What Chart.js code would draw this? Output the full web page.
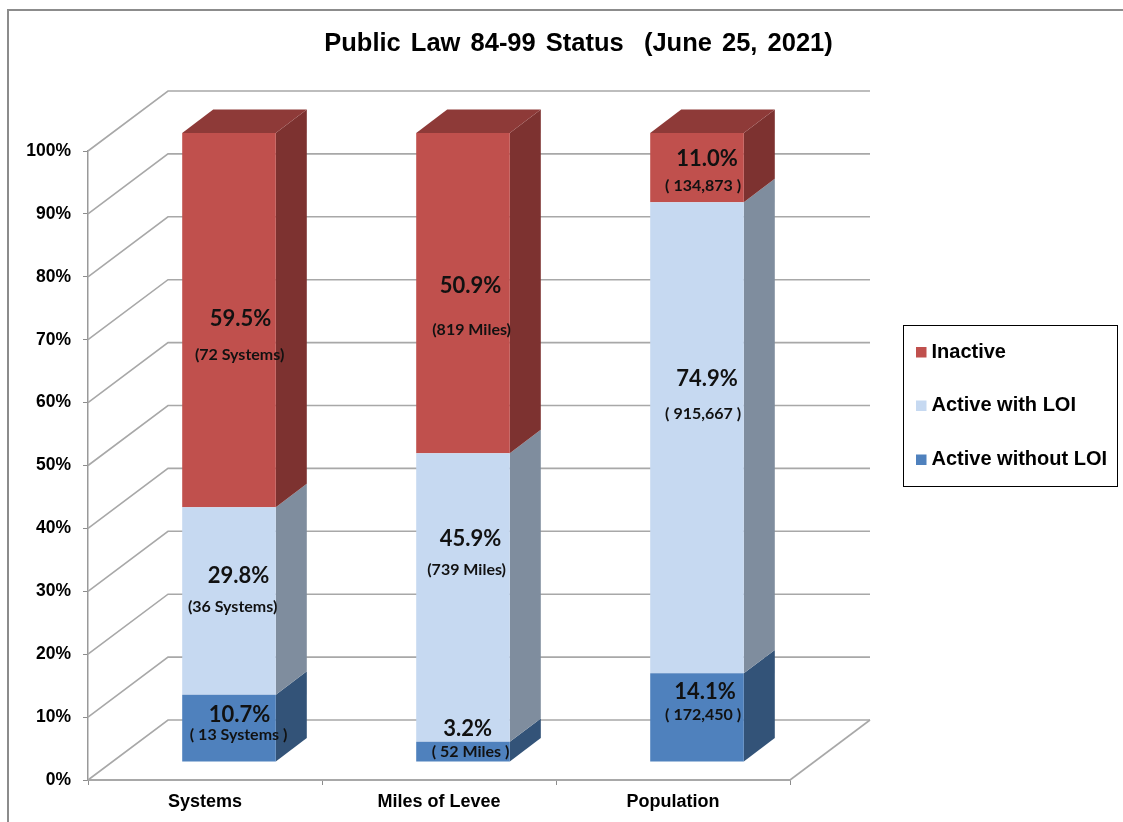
<!DOCTYPE html>
<html>
<head>
<meta charset="utf-8">
<title>Public Law 84-99 Status</title>
<script src="https://cdn.jsdelivr.net/npm/chart.js@4"></script>
<style>
  html, body { margin: 0; padding: 0; background: #fff; }
  #wrap { width: 1123px; height: 822px; position: relative; overflow: hidden; }
</style>
</head>
<body>
<div id="wrap"><canvas id="chart"></canvas></div>
<script>
const chartTitle = 'Public Law 84-99 Status  (June 25, 2021)';
const categories = ['Systems', 'Miles of Levee', 'Population'];
const seriesNames = ['Active without LOI', 'Active with LOI', 'Inactive'];

const activeWithoutLoi = [10.7, 3.2, 14.1];
const activeWithLoi = [29.8, 45.9, 74.9];
const inactive = [59.5, 50.9, 11.0];

const activeWithoutLoiNotes = ['( 13 Systems )', '( 52 Miles )', '( 172,450 )'];
const activeWithLoiNotes = ['(36 Systems)', '(739 Miles)', '( 915,667 )'];
const inactiveNotes = ['(72 Systems)', '(819 Miles)', '( 134,873 )'];

// colours: front face, side face, top face
const frontColors = ['#4F81BD', '#C6D9F1', '#C0504D'];
const sideColors = ['#335378', '#7F8D9E', '#7D3230'];
const topColors = ['#3F6797', '#9EAEC1', '#8E3A38'];

const wallDepth = { x: 80, y: 60 };     // front plane to back wall
const barOffset = { x: 24, y: 18 };     // front plane to front of the bars
const barDepth = { x: 31, y: 23.4 };
const gridColor = '#A8A8A8';

// the labels were moved by hand in the original, [dx, dy] from segment centre
const percentNudge = [
  [[11, -13], [5, -23], [8.5, -25]],
  [[10, -25], [8, -58.5], [10.5, -59]],
  [[12, -1], [8, -7], [10.5, -9]]
];
const noteNudge = [
  [[10, 6.5], [8, 0.5], [6.5, -2.5]],
  [[4, 5.5], [4, -28], [6.5, -23.5]],
  [[11, 34.5], [9, 36.5], [6.5, 18.5]]
];
const noteLists = [activeWithoutLoiNotes, activeWithLoiNotes, inactiveNotes];

function poly(ctx, pts, color) {
  ctx.beginPath();
  pts.forEach((p, i) => (i ? ctx.lineTo(p[0], p[1]) : ctx.moveTo(p[0], p[1])));
  ctx.closePath();
  ctx.fillStyle = color;
  ctx.fill();
}

const plot3d = {
  id: 'plot3d',
  beforeDraw(chart) {
    const ctx = chart.ctx;
    // outer frame, only left and top are in the picture
    ctx.save();
    ctx.strokeStyle = '#8C8C8C';
    ctx.lineWidth = 2;
    ctx.beginPath();
    ctx.moveTo(8, 822);
    ctx.lineTo(8, 10);
    ctx.lineTo(1123, 10);
    ctx.stroke();

    ctx.textAlign = 'center';
    ctx.textBaseline = 'middle';
    ctx.fillStyle = '#000';
    ctx.font = 'bold 25.5px "Liberation Sans"';
    ctx.wordSpacing = '3px';
    ctx.fillText(chartTitle, 578.5, 43.5);
    ctx.wordSpacing = '0px';
    ctx.restore();
  },
  beforeDatasetsDraw(chart) {
    const ctx = chart.ctx;
    const area = chart.chartArea;
    const yScale = chart.scales.y;

    // back wall and left side grid
    ctx.save();
    ctx.strokeStyle = gridColor;
    ctx.lineWidth = 1.6;
    yScale.ticks.forEach((t) => {
      const y = yScale.getPixelForValue(t.value);
      ctx.beginPath();
      ctx.moveTo(area.left, y);
      ctx.lineTo(area.left + wallDepth.x, y - wallDepth.y);
      ctx.lineTo(area.right + wallDepth.x, y - wallDepth.y);
      ctx.stroke();
    });
    ctx.beginPath();
    ctx.moveTo(area.right, area.bottom);
    ctx.lineTo(area.right + wallDepth.x, area.bottom - wallDepth.y);
    ctx.stroke();
    ctx.restore();

    // stays translated until afterDatasetsDraw so the bars sit inside the box
    ctx.save();
    ctx.translate(barOffset.x, -barOffset.y);
    chart.data.datasets.forEach((ds, d) => {
      chart.getDatasetMeta(d).data.forEach((bar) => {
        const r = bar.x + bar.width / 2;
        const l = bar.x - bar.width / 2;
        poly(ctx, [
          [r, bar.y], [r + barDepth.x, bar.y - barDepth.y],
          [r + barDepth.x, bar.base - barDepth.y], [r, bar.base]
        ], sideColors[d]);
        if (d === chart.data.datasets.length - 1) {
          poly(ctx, [
            [l, bar.y], [l + barDepth.x, bar.y - barDepth.y],
            [r + barDepth.x, bar.y - barDepth.y], [r, bar.y]
          ], topColors[d]);
        }
      });
    });
  },
  afterDatasetsDraw(chart) {
    const ctx = chart.ctx;
    ctx.restore();

    ctx.save();
    ctx.textAlign = 'center';
    ctx.textBaseline = 'middle';
    ctx.fillStyle = '#111';
    chart.data.datasets.forEach((ds, d) => {
      chart.getDatasetMeta(d).data.forEach((bar, i) => {
        const cx = bar.x + 23.6;
        const cy = (bar.y + bar.base) / 2 - barOffset.y;
        ctx.font = 'bold 22px Lato';
        ctx.fillText(ds.data[i].toFixed(1) + '%', cx + percentNudge[d][i][0], cy + percentNudge[d][i][1]);
        ctx.font = 'bold 16px Lato';
        ctx.fillText(noteLists[d][i], cx + noteNudge[d][i][0], cy + noteNudge[d][i][1]);
      });
    });
    ctx.restore();
  },
  afterDraw(chart) {
    // legend box, top series first
    const ctx = chart.ctx;
    const rows = [352, 405.5, 459.5];
    ctx.save();
    ctx.strokeStyle = '#000';
    ctx.lineWidth = 1;
    ctx.strokeRect(903.5, 325.5, 214, 161);
    ctx.font = 'bold 20px "Liberation Sans"';
    ctx.textBaseline = 'middle';
    ctx.textAlign = 'left';
    chart.data.datasets.slice().reverse().forEach((ds, i) => {
      ctx.fillStyle = ds.backgroundColor;
      ctx.fillRect(916, rows[i] - 5, 10.5, 10.5);
      ctx.fillStyle = '#000';
      ctx.fillText(ds.label, 931.5, rows[i]);
    });
    ctx.restore();
  }
};

new Chart(document.getElementById('chart'), {
  type: 'bar',
  data: {
    labels: categories,
    datasets: [activeWithoutLoi, activeWithLoi, inactive].map((values, d) => ({
      label: seriesNames[d],
      data: values,
      backgroundColor: frontColors[d],
      borderWidth: 0,
      categoryPercentage: 1,
      barPercentage: 0.4
    }))
  },
  options: {
    responsive: true,
    maintainAspectRatio: false,
    animation: false,
    layout: { padding: { top: 151, right: 333, bottom: 0, left: 0 } },
    plugins: {
      legend: { display: false },
      title: { display: false },
      tooltip: { enabled: false }
    },
    scales: {
      x: {
        stacked: true,
        afterFit(scale) { scale.height = 42; },
        border: { color: gridColor, width: 2 },
        grid: { drawOnChartArea: false, tickColor: '#8C8C8C', tickLength: 5 },
        ticks: {
          color: '#000',
          padding: 6,
          maxRotation: 0,
          font: { family: 'Liberation Sans', weight: 'bold', size: 18 }
        }
      },
      y: {
        stacked: true,
        min: 0,
        max: 100,
        afterFit(scale) { scale.width = 88; },
        border: { color: '#999999', width: 1.5 },
        grid: { drawOnChartArea: false, tickColor: '#8C8C8C', tickLength: 5 },
        ticks: {
          stepSize: 10,
          color: '#000',
          padding: 12,
          callback: (v) => v + '%',
          font: { family: 'Liberation Sans', weight: 'bold', size: 17.5 }
        }
      }
    }
  },
  plugins: [plot3d]
});
</script>
</body>
</html>
